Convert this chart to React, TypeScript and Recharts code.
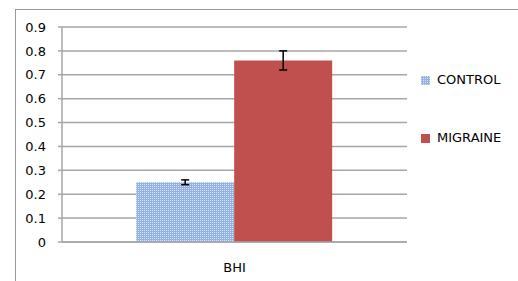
import { BarChart, Bar, XAxis, YAxis, CartesianGrid, ErrorBar } from "recharts";

const categories = ["BHI"];
const seriesNames = ["CONTROL", "MIGRAINE"];
const controlValues = [0.25];
const controlErrors = [0.01];
const migraineValues = [0.76];
const migraineErrors = [0.04];
const yTicks = [0, 0.1, 0.2, 0.3, 0.4, 0.5, 0.6, 0.7, 0.8, 0.9];

const data = categories.map((name, i) => ({
  name,
  control: controlValues[i],
  controlErr: controlErrors[i],
  migraine: migraineValues[i],
  migraineErr: migraineErrors[i],
}));

const font = "'DejaVu Sans', Verdana, sans-serif";
const gridColor = "#a6a6a6";
const legendFills = ["url(#checker)", "#c0504d"];

export default function App() {
  return (
    <div style={{ position: "absolute", left: 0, top: 0, width: 518, height: 281, background: "#fff", overflow: "hidden", fontFamily: font }}>
      {/* outer chart frame, only top and left edges visible */}
      <div style={{ position: "absolute", left: 15, top: 9, width: 600, height: 400, borderTop: "1px solid #9a9a9a", borderLeft: "1px solid #9a9a9a" }} />
      <BarChart
        width={518}
        height={281}
        data={data}
        margin={{ top: 27, right: 111, bottom: 0, left: 0 }}
        barCategoryGap="21.5%"
        barGap={0}
        style={{ position: "absolute", left: 0, top: 0 }}
      >
        <defs>
          <pattern id="checker" width="2" height="2" patternUnits="userSpaceOnUse">
            <rect width="2" height="2" fill="#92b2e2" />
            <rect width="1" height="1" fill="#d6e2f5" />
          </pattern>
        </defs>
        <CartesianGrid horizontal vertical={false} stroke={gridColor} strokeWidth={1.5} />
        <XAxis
          dataKey="name"
          height={39}
          tickSize={0}
          tickMargin={21}
          axisLine={{ stroke: gridColor, strokeWidth: 1.5 }}
          tick={{ fill: "#000", fontSize: 13, fontFamily: font }}
        />
        <YAxis
          width={62}
          domain={[0, 0.9]}
          ticks={yTicks}
          interval={0}
          tickSize={4}
          tickMargin={12}
          axisLine={{ stroke: gridColor, strokeWidth: 1.5 }}
          tickLine={{ stroke: gridColor, strokeWidth: 1.5 }}
          tick={{ fill: "#000", fontSize: 13, fontFamily: font }}
        />
        <Bar dataKey="control" name={seriesNames[0]} fill="url(#checker)" isAnimationActive={false}>
          <ErrorBar dataKey="controlErr" width={4} stroke="#000" strokeWidth={1.5} />
        </Bar>
        <Bar dataKey="migraine" name={seriesNames[1]} fill="#c0504d" isAnimationActive={false}>
          <ErrorBar dataKey="migraineErr" width={4} stroke="#000" strokeWidth={1.5} />
        </Bar>
      </BarChart>
      {seriesNames.map((s, i) => (
        <div key={s} style={{ position: "absolute", left: 421, top: 73 + i * 58, display: "flex", alignItems: "center", fontSize: 13, color: "#000", lineHeight: "14px" }}>
          <svg width={9} height={9} style={{ marginRight: 7 }}>
            <defs>
              <pattern id={`lg${i}`} width="2" height="2" patternUnits="userSpaceOnUse">
                <rect width="2" height="2" fill="#92b2e2" />
                <rect width="1" height="1" fill="#d6e2f5" />
              </pattern>
            </defs>
            <rect width={9} height={9} fill={i === 0 ? `url(#lg${i})` : legendFills[i]} />
          </svg>
          <span>{s}</span>
        </div>
      ))}
    </div>
  );
}
